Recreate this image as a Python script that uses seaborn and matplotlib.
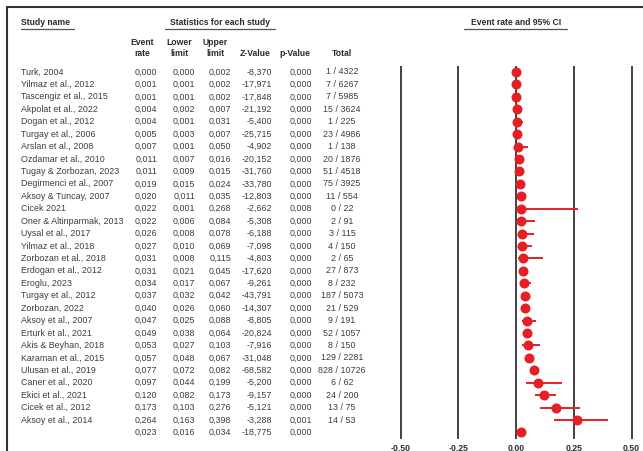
import matplotlib
matplotlib.use("Agg")
import matplotlib.pyplot as plt
import seaborn as sns
import pandas as pd
from matplotlib.lines import Line2D

# ---- study data ----
study_names = [
    "Turk, 2004", "Yilmaz et al., 2012", "Tascengiz et al., 2015", "Akpolat et al., 2022",
    "Dogan et al., 2012", "Turgay et al., 2006", "Arslan et al., 2008", "Ozdamar et al., 2010",
    "Tugay & Zorbozan, 2023", "Degirmenci et al., 2007", "Aksoy & Tuncay, 2007", "Cicek 2021",
    "Oner & Altinparmak, 2013", "Uysal et al., 2017", "Yilmaz et al., 2018", "Zorbozan et al., 2018",
    "Erdogan et al., 2012", "Eroglu, 2023", "Turgay et al., 2012", "Zorbozan, 2022",
    "Aksoy et al., 2007", "Erturk et al., 2021", "Akis & Beyhan, 2018", "Karaman et al., 2015",
    "Ulusan et al., 2019", "Caner et al., 2020", "Ekici et al., 2021", "Cicek et al., 2012",
    "Aksoy et al., 2014",
]
event_rate = [0.000, 0.001, 0.001, 0.004, 0.004, 0.005, 0.007, 0.011, 0.011, 0.019, 0.020, 0.022,
              0.022, 0.026, 0.027, 0.031, 0.031, 0.034, 0.037, 0.040, 0.047, 0.049, 0.053, 0.057,
              0.077, 0.097, 0.120, 0.173, 0.264]
lower_limit = [0.000, 0.001, 0.001, 0.002, 0.001, 0.003, 0.001, 0.007, 0.009, 0.015, 0.011, 0.001,
               0.006, 0.008, 0.010, 0.008, 0.021, 0.017, 0.032, 0.026, 0.025, 0.038, 0.027, 0.048,
               0.072, 0.044, 0.082, 0.103, 0.163]
upper_limit = [0.002, 0.002, 0.002, 0.007, 0.031, 0.007, 0.050, 0.016, 0.015, 0.024, 0.035, 0.268,
               0.084, 0.078, 0.069, 0.115, 0.045, 0.067, 0.042, 0.060, 0.088, 0.064, 0.103, 0.067,
               0.082, 0.199, 0.173, 0.276, 0.398]
z_value = [-8.370, -17.971, -17.848, -21.192, -5.400, -25.715, -4.902, -20.152, -31.760, -33.780,
           -12.803, -2.662, -5.308, -6.188, -7.098, -4.803, -17.620, -9.261, -43.791, -14.307,
           -8.805, -20.824, -7.916, -31.048, -68.582, -5.200, -9.157, -5.121, -3.288]
p_value = [0.000, 0.000, 0.000, 0.000, 0.000, 0.000, 0.000, 0.000, 0.000, 0.000, 0.000, 0.008,
           0.000, 0.000, 0.000, 0.000, 0.000, 0.000, 0.000, 0.000, 0.000, 0.000, 0.000, 0.000,
           0.000, 0.000, 0.000, 0.000, 0.001]
events = [1, 7, 7, 15, 1, 23, 1, 20, 51, 75, 11, 0, 2, 3, 4, 2, 27, 8, 187, 21, 9, 52, 8, 129,
          828, 6, 24, 13, 14]
totals = [4322, 6267, 5985, 3624, 225, 4986, 138, 1876, 4518, 3925, 554, 22, 91, 115, 150, 65,
          873, 232, 5073, 529, 191, 1057, 150, 2281, 10726, 62, 200, 75, 53]

# pooled estimate
pooled_rate, pooled_lower, pooled_upper = 0.023, 0.016, 0.034
pooled_z, pooled_p = -18.775, 0.000

x_ticks = [-0.50, -0.25, 0.00, 0.25, 0.50]
x_tick_labels = ["-0,50", "-0,25", "0,00", "0,25", "0,50"]

# ---- styling ----
sns.set_theme(style="white")
plt.rcParams["font.family"] = ["Liberation Sans", "DejaVu Sans"]

RED = "#e61e25"
TXT = "#3c3c3c"
HDR = "#2a2a2a"
W, H = 643, 451
ROW0, ROWH = 72, 12.43          # first row centre and row pitch (px)


def ypos(px):
    """Convert a pixel height from the top into row units."""
    return (px - ROW0) / ROWH


def fmt(v):
    return f"{v:.3f}".replace(".", ",")


n = len(study_names)
df = pd.DataFrame({
    "row": list(range(n)) + [n],
    "rate": event_rate + [pooled_rate],
    "lower": lower_limit + [pooled_lower],
    "upper": upper_limit + [pooled_upper],
})

fig = plt.figure(figsize=(W / 100, H / 100), dpi=100)
fig.patch.set_facecolor("white")

# ---- table axes (pixels horizontally, rows vertically) ----
ax_t = fig.add_axes([0, 0, 1, 1])
ax_t.set_xlim(0, W)
ax_t.set_ylim(ypos(H), ypos(0))
ax_t.axis("off")

# frame
fig.add_artist(Line2D([7 / W, 1], [1 - 7 / H, 1 - 7 / H], color="#333333", lw=1.5,
                      transform=fig.transFigure))
fig.add_artist(Line2D([7 / W, 7 / W], [0, 1 - 7 / H], color="#333333", lw=1.5,
                      transform=fig.transFigure))

hdr_kw = dict(fontsize=6.2, fontweight="bold", color=HDR)
ax_t.text(21, ypos(23), "Study name", ha="left", va="center", **hdr_kw)
ax_t.plot([21, 74], [ypos(29.5)] * 2, color="#555555", lw=0.9)
ax_t.text(220, ypos(23), "Statistics for each study", ha="center", va="center", **hdr_kw)
ax_t.plot([165, 275], [ypos(29.5)] * 2, color="#555555", lw=0.9)
ax_t.text(516, ypos(23), "Event rate and 95% CI", ha="center", va="center", **hdr_kw)
ax_t.plot([464, 567], [ypos(29.5)] * 2, color="#555555", lw=0.9)

col_headers = [("Event\nrate", 142), ("Lower\nlimit", 179), ("Upper\nlimit", 215),
               ("Z-Value", 255), ("p-Value", 295), ("Total", 342)]
for label, cx in col_headers:
    ax_t.text(cx, ypos(58), label, ha="center", va="bottom", linespacing=1.35, **hdr_kw)

body_kw = dict(fontsize=6.4, color=TXT, va="center")
for i in range(n):
    ax_t.text(21, i, study_names[i], ha="left", **body_kw)
    ax_t.text(157, i, fmt(event_rate[i]), ha="right", **body_kw)
    ax_t.text(195, i, fmt(lower_limit[i]), ha="right", **body_kw)
    ax_t.text(231, i, fmt(upper_limit[i]), ha="right", **body_kw)
    ax_t.text(272, i, fmt(z_value[i]), ha="right", **body_kw)
    ax_t.text(312, i, fmt(p_value[i]), ha="right", **body_kw)
    ax_t.text(342, i, f"{events[i]} / {totals[i]}", ha="center", **body_kw)

ax_t.text(157, n, fmt(pooled_rate), ha="right", **body_kw)
ax_t.text(195, n, fmt(pooled_lower), ha="right", **body_kw)
ax_t.text(231, n, fmt(pooled_upper), ha="right", **body_kw)
ax_t.text(272, n, fmt(pooled_z), ha="right", **body_kw)
ax_t.text(312, n, fmt(pooled_p), ha="right", **body_kw)

# ---- forest plot axes ----
x_left, x_right = 516 - 0.55 * 231, 516 + 0.55 * 231
ax_f = fig.add_axes([x_left / W, (H - 439) / H, (x_right - x_left) / W, (439 - 66) / H])
ax_f.patch.set_alpha(0)
for s in ax_f.spines.values():
    s.set_visible(False)

ax_f.hlines(df["row"], df["lower"], df["upper"], color=RED, lw=1.4, zorder=2)
sns.scatterplot(data=df, x="rate", y="row", ax=ax_f, s=52, color=RED,
                edgecolor=RED, linewidth=0, zorder=3, legend=False)

ax_f.set_xlim(-0.55, 0.55)
ax_f.set_ylim(ypos(439), ypos(66))
ax_f.set_xticks(x_ticks)
ax_f.set_xticklabels(x_tick_labels, fontsize=6.2, fontweight="bold", color=HDR)
ax_f.set_yticks([])
ax_f.set_xlabel("")
ax_f.set_ylabel("")
ax_f.tick_params(axis="x", length=0, pad=3)
ax_f.grid(axis="x", color="#333333", lw=1.3)
ax_f.grid(axis="y", visible=False)
ax_f.set_axisbelow(True)

fig.savefig("out.png", dpi=100, facecolor="white")
